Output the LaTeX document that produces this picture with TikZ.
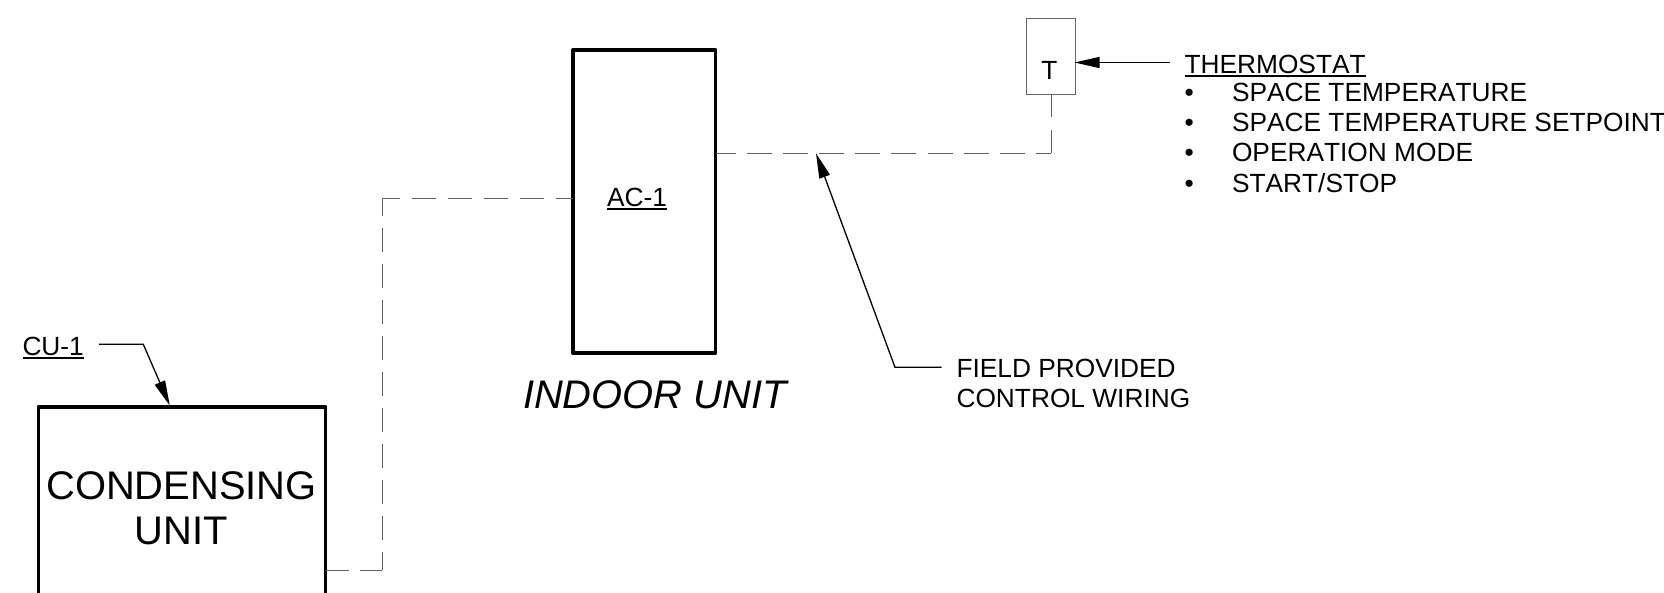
\documentclass[tikz,border=0pt]{standalone}
\usepackage{fontspec}
\setmainfont[Kerning=Off]{Liberation Sans}
\usetikzlibrary{arrows.meta}
\newcommand\ulx[1]{\setbox0\hbox{#1}\rlap{\rule[-3.6pt]{\wd0}{1.9pt}}\box0}
\tikzset{
  heavybox/.style={draw=black,line width=3.4pt,line join=round,fill=none,inner sep=0pt,outer sep=0pt},
  thinbox/.style={draw=black!60,line width=1pt,inner sep=0pt,outer sep=0pt},
  txt/.style={anchor=base west,inner sep=0pt,outer sep=0pt,font=\fontsize{26.3}{30}\selectfont},
  big/.style={anchor=base,inner sep=0pt,outer sep=0pt,font=\fontsize{39.9}{44}\selectfont},
  wire/.style={draw=black!62,line width=1pt},
  leader/.style={draw=black,line width=1.3pt,-{Triangle[length=25pt,width=11pt]}},
}
\begin{document}
\begin{tikzpicture}[x=1pt,y=-1pt]
\useasboundingbox (0,0) rectangle (1664,592);
\clip (0,0) rectangle (1664,592);
\node[heavybox,anchor=north west,minimum width=287pt,minimum height=240pt] (cu) at (38.5,407) {};
\node[heavybox,anchor=north west,minimum width=142.9pt,minimum height=303pt] (ac) at (572.8,50) {};
\node[thinbox,anchor=north west,minimum width=49.3pt,minimum height=75.7pt] (t) at (1026.5,18.3) {};
\node[big] (cond) at (181.5,499.3) {CONDENSING};
\node[big] (unit) at (181.5,544) {UNIT};
\node[big,anchor=base west,font=\fontsize{39.9}{44}\selectfont\itshape] (indoor) at (523,408.3) {INDOOR UNIT};
\node[txt] (cutag) at (22.5,355) {\ulx{CU-1}};
\node[txt] (actag) at (607,206) {\ulx{AC-1}};
\node[txt,anchor=base] (tt) at (1049.5,79) {T};
\node[txt] (th) at (1184.5,73.3) {\ulx{THERMOSTAT}};
\node[txt] (b1) at (1184.5,101.7) {•};
\node[txt] (b2) at (1184.5,131.7) {•};
\node[txt] (b3) at (1184.5,161.7) {•};
\node[txt] (b4) at (1184.5,192) {•};
\node[txt] (p1) at (1232,101.7) {SPACE TEMPERATURE};
\node[txt] (p2) at (1232,131.7) {SPACE TEMPERATURE SETPOINT};
\node[txt] (p3) at (1232,161.7) {OPERATION MODE};
\node[txt] (p4) at (1232,192) {START/STOP};
\node[txt] (f1) at (956.5,377) {FIELD PROVIDED};
\node[txt] (f2) at (956.5,407.5) {CONTROL WIRING};
\coordinate (j1) at (382.3,198.3);
\coordinate (j2) at (382.3,570);
\coordinate (j3) at (1051.15,153.3);
\coordinate (ld1) at (143.3,344.3);
\coordinate (ld1s) at (99,344.3);
\coordinate (ld1e) at (169.8,405.5);
\coordinate (ld2e) at (816,153.3);
\coordinate (ld2) at (895,367.3);
\coordinate (ld2s) at (941.7,367.3);
\coordinate (ld3s) at (1170,62.5);
\coordinate (ld3e) at (1074.5,62.5);
\draw[wire,dash pattern=on 25pt off 11.15pt,dash phase=5pt] (j3 -| ac.east) -- (j3);
\draw[wire,dash pattern=on 23pt off 13pt] (t.south) -- (j3);
\draw[wire,dash pattern=on 24pt off 12pt,dash phase=6pt] (j1) -- (j1 -| ac.west);
\draw[wire,dash pattern=on 24pt off 12pt,dash phase=6pt] (j1) -- (j2);
\draw[wire,dash pattern=on 23pt off 11.7pt] (j2 -| cu.east) -- (j2);
\draw[leader] (ld1s) -- (ld1) -- (ld1e);
\draw[leader] (ld2s) -- (ld2) -- (ld2e);
\draw[leader] (ld3s) -- (ld3e);
\end{tikzpicture}
\end{document}
